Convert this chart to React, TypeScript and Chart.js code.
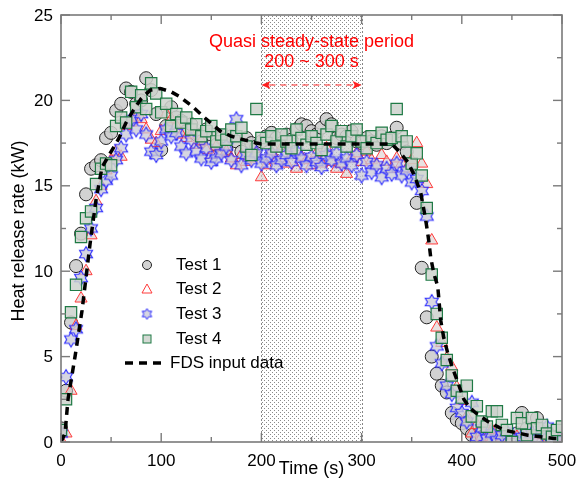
import React, { useEffect, useRef } from 'react';
import { Chart, registerables } from 'chart.js';

Chart.register(...registerables);

const FONT = "'Liberation Sans', Arial, sans-serif";

// Time samples (s) shared by the four tests
const TIME = [
  0, 5, 10, 15, 20, 25, 30, 35, 40, 45,
  50, 55, 60, 65, 70, 75, 80, 85, 90, 95,
  100, 105, 110, 115, 120, 125, 130, 135, 140, 145,
  150, 155, 160, 165, 170, 175, 180, 185, 190, 195,
  200, 205, 210, 215, 220, 225, 230, 235, 240, 245,
  250, 255, 260, 265, 270, 275, 280, 285, 290, 295,
  300, 305, 310, 315, 320, 325, 330, 335, 340, 345,
  350, 355, 360, 365, 370, 375, 380, 385, 390, 395,
  400, 405, 410, 415, 420, 425, 430, 435, 440, 445,
  450, 455, 460, 465, 470, 475, 480, 485, 490, 495,
  500,
];

const TEST1 = [
  0.8, 3.0, 7.0, 10.3, 12.2, 14.5, 16.0, 16.2, 16.5, 17.8,
  18.1, 19.4, 19.8, 20.7, 20.5, 19.8, 20.0, 21.3, 20.6, 19.2,
  17.1, 18.5, 19.6, 19.0, 18.8, 18.2, 18.6, 18.0, 17.6, 18.3,
  18.0, 17.4, 17.8, 17.2, 17.9, 17.6, 17.0, 17.8, 17.5, 17.3,
  17.6, 17.9, 18.1, 17.8, 17.5, 18.0, 17.7, 18.3, 18.6, 18.5,
  18.2, 18.0, 18.4, 18.9, 18.6, 17.8, 18.0, 17.9, 18.2, 17.6,
  17.5, 17.8, 17.6, 17.4, 17.9, 17.5, 17.8, 18.4, 17.5, 17.0,
  16.2, 14.0, 10.2, 7.3, 5.0, 4.0, 3.3, 2.9, 1.7, 1.3,
  1.1, 0.8, 0.4, 0.1, 0.3, 0.5, 0.2, 0.6, 0.0, 0.3,
  0.1, 0.5, 1.7, 0.8, 0.3, 1.4, 0.6, 0.2, 0.1, 0.3,
  0.1,
];

const TEST2 = [
  0.1, 0.5, 3.0, 6.8, 8.4, 10.0, 12.1, 14.1, 15.0, 15.9,
  16.5, 17.0, 16.7, 18.5, 18.7, 19.0, 18.9, 18.3, 17.7, 17.5,
  18.2, 19.2, 18.9, 18.5, 18.0, 17.8, 18.0, 17.4, 17.6, 17.1,
  16.8, 17.3, 16.9, 17.0, 16.6, 16.2, 16.8, 16.4, 16.6, 16.9,
  15.5, 16.2, 17.0, 16.5, 17.2, 16.3, 16.8, 16.0, 16.7, 16.5,
  16.2, 16.9, 16.3, 17.2, 16.4, 16.0, 16.3, 15.7, 16.6, 16.9,
  16.4, 17.0, 16.5, 16.2, 16.8, 16.4, 16.0, 16.6, 16.3, 16.0,
  16.5, 17.5, 16.3, 15.1, 11.8, 6.7, 5.8, 4.9, 4.4, 3.2,
  2.4, 1.5, 0.5, 1.0, 0.3, 0.8, 0.7, 0.4, 0.2, 0.6,
  0.1, 0.3, 0.0, 0.2, 0.5, 0.1, 0.4, 0.0, 0.2, 0.1,
  0.3,
];

const TEST3 = [
  0.5, 3.8, 6.0, 6.6, 9.6, 11.0, 12.5, 13.7, 14.8, 15.3,
  15.6, 16.5, 17.2, 18.0, 18.9, 18.3, 19.2, 18.0, 17.0, 16.8,
  17.6, 18.3, 17.9, 18.1, 17.3, 16.9, 17.7, 17.0, 16.6, 17.2,
  16.4, 16.6, 16.9, 17.3, 16.5, 18.9, 16.2, 16.8, 16.5, 16.9,
  16.3, 16.6, 16.9, 16.2, 16.5, 16.8, 16.4, 17.0, 16.6, 16.2,
  16.7, 16.4, 16.1, 16.8, 16.5, 16.9, 16.3, 16.6, 16.2, 16.8,
  15.6, 16.4, 15.8, 16.2, 15.5, 16.0, 15.7, 16.3, 15.6, 15.9,
  15.2, 15.4, 14.7, 13.2, 8.2, 5.6, 4.6, 3.3, 2.8, 2.0,
  1.7, 1.2, 2.3, 0.3, 0.8, 0.2, 0.5, 0.1, 0.4, 0.6,
  0.2, 0.0, 0.3, 0.1, 0.5, 0.2, 0.7, 0.9, 0.3, 0.1,
  0.2,
];

const TEST4 = [
  0.7, 2.5, 7.6, 9.2, 12.0, 13.1, 13.5, 15.1, 16.0, 16.3,
  16.2, 18.5, 19.0, 18.7, 20.5, 19.6, 20.3, 19.5, 21.0, 20.4,
  19.3, 19.8, 18.5, 19.2, 18.7, 19.0, 18.3, 18.6, 17.9, 18.2,
  18.5, 17.6, 18.0, 17.7, 18.3, 17.9, 18.4, 17.3, 16.8, 19.5,
  17.8, 17.5, 17.9, 17.3, 18.0, 17.6, 17.2, 18.3, 17.8, 17.4,
  17.9, 17.5, 17.1, 18.0, 18.5, 17.6, 18.2, 17.3, 17.9, 18.3,
  17.6, 17.2, 17.9, 17.5, 18.1, 17.7, 17.8, 19.5, 17.9, 17.6,
  16.3, 16.9, 15.6, 13.7, 9.8, 7.5, 6.1, 4.8, 3.9, 3.0,
  2.6, 3.3, 1.5, 2.1, 1.2, 0.9, 1.8, 1.8, 1.0, 0.7,
  0.0, 1.4, 1.1, 0.4, 1.4, 0.8, 1.0, 0.5, 0.3, 0.7,
  0.9,
];

// FDS input data curve
const FDS_TIME = [
  0, 4, 7, 14, 21, 29, 35, 41, 50, 57, 65, 72, 80, 89, 99, 110, 119, 132, 145, 159,
  170, 182, 195, 200, 330, 339, 346, 352, 359, 364, 367, 369, 372, 376, 379, 382, 386, 391, 396, 402,
  408, 414, 426, 442, 466, 492, 500,
];
const FDS_HRR = [
  0, 0.5, 2.5, 5.0, 7.7, 11.6, 14.2, 16.1, 17.0, 17.7, 18.7, 19.4, 20.1, 20.6, 20.7, 20.5, 20.2, 19.6, 18.9, 18.2,
  17.9, 17.7, 17.5, 17.45, 17.45, 16.9, 16.4, 15.7, 14.6, 13.0, 11.8, 10.8, 9.9, 9.1, 7.1, 6.1, 5.2, 4.3, 3.5, 2.5,
  2.0, 1.7, 1.2, 0.7, 0.4, 0.2, 0.2,
];

const SERIES_NAMES = ['Test 1', 'Test 2', 'Test 3', 'Test 4', 'FDS input data'];
const X_TICKS = [0, 100, 200, 300, 400, 500];
const Y_TICKS = [0, 5, 10, 15, 20, 25];
const X_MINOR = [50, 150, 250, 350, 450];
const Y_MINOR = [2.5, 7.5, 12.5, 17.5, 22.5];
const STEADY = [200, 300];
const ANNOT_TITLE = 'Quasi steady-state period';
const ANNOT_RANGE = '200 ~ 300 s';
const ANNOT_ARROW_Y = 20.9;
const X_TITLE = 'Time (s)';
const Y_TITLE = 'Heat release rate (kW)';

const C1 = { bg: 'rgba(205,205,205,0.9)', border: '#222222' };
const C2 = { bg: 'rgba(215,200,200,0.55)', border: '#ff3a3a' };
const C3 = { bg: 'rgba(200,200,215,0.75)', border: '#2b2bff' };
const C4 = { bg: 'rgba(205,210,205,0.85)', border: '#1f7a45' };

function makeHexagram(R: number, stroke: string, fill: string, lw: number) {
  const size = Math.ceil(2 * R + lw * 2 + 2);
  const c = document.createElement('canvas');
  c.width = size;
  c.height = size;
  const g = c.getContext('2d')!;
  const cx = size / 2;
  const cy = size / 2;
  g.beginPath();
  for (let k = 0; k < 12; k++) {
    const ang = -Math.PI / 2 + (k * Math.PI) / 6;
    const r = k % 2 === 0 ? R : R / Math.sqrt(3);
    const px = cx + r * Math.cos(ang);
    const py = cy + r * Math.sin(ang);
    if (k === 0) g.moveTo(px, py);
    else g.lineTo(px, py);
  }
  g.closePath();
  g.fillStyle = fill;
  g.fill();
  g.strokeStyle = stroke;
  g.lineWidth = lw;
  g.stroke();
  return c;
}

function makeDotPattern(ctx: CanvasRenderingContext2D) {
  const c = document.createElement('canvas');
  c.width = 4;
  c.height = 4;
  const g = c.getContext('2d')!;
  g.fillStyle = '#8a8a8a';
  g.fillRect(0, 0, 1, 1);
  g.fillRect(2, 2, 1, 1);
  return ctx.createPattern(c, 'repeat');
}

const decorPlugin = {
  id: 'decor',
  beforeDatasetsDraw(chart: any) {
    const { ctx, chartArea, scales } = chart;
    const x = scales.x;
    const x0 = x.getPixelForValue(STEADY[0]);
    const x1 = x.getPixelForValue(STEADY[1]);
    ctx.save();
    const pat = makeDotPattern(ctx);
    if (pat) {
      ctx.fillStyle = pat;
      ctx.fillRect(x0, chartArea.top, x1 - x0, chartArea.bottom - chartArea.top);
    }
    ctx.strokeStyle = '#888888';
    ctx.lineWidth = 1;
    ctx.setLineDash([2, 2]);
    for (const px of [x0, x1]) {
      ctx.beginPath();
      ctx.moveTo(Math.round(px) + 0.5, chartArea.top);
      ctx.lineTo(Math.round(px) + 0.5, chartArea.bottom);
      ctx.stroke();
    }
    ctx.restore();
  },
  afterDatasetsDraw(chart: any) {
    const { ctx, chartArea, scales } = chart;
    const x = scales.x;
    const y = scales.y;
    ctx.save();
    // frame
    ctx.strokeStyle = '#7a7a7a';
    ctx.lineWidth = 1.6;
    ctx.strokeRect(chartArea.left, chartArea.top, chartArea.right - chartArea.left, chartArea.bottom - chartArea.top);
    // inward ticks
    const tick = (x1: number, y1: number, x2: number, y2: number) => {
      ctx.beginPath();
      ctx.moveTo(x1, y1);
      ctx.lineTo(x2, y2);
      ctx.stroke();
    };
    ctx.lineWidth = 1.4;
    for (const v of X_TICKS) {
      const px = x.getPixelForValue(v);
      tick(px, chartArea.bottom, px, chartArea.bottom - 9);
      tick(px, chartArea.top, px, chartArea.top + 9);
    }
    for (const v of X_MINOR) {
      const px = x.getPixelForValue(v);
      tick(px, chartArea.bottom, px, chartArea.bottom - 5);
      tick(px, chartArea.top, px, chartArea.top + 5);
    }
    for (const v of Y_TICKS) {
      const py = y.getPixelForValue(v);
      tick(chartArea.left, py, chartArea.left + 9, py);
      tick(chartArea.right, py, chartArea.right - 9, py);
    }
    for (const v of Y_MINOR) {
      const py = y.getPixelForValue(v);
      tick(chartArea.left, py, chartArea.left + 5, py);
      tick(chartArea.right, py, chartArea.right - 5, py);
    }

    // tick labels
    ctx.fillStyle = '#000000';
    ctx.font = `17px ${FONT}`;
    ctx.textBaseline = 'middle';
    ctx.textAlign = 'center';
    for (const v of X_TICKS) {
      ctx.fillText(String(v), x.getPixelForValue(v), chartArea.bottom + 19);
    }
    ctx.textAlign = 'right';
    for (const v of Y_TICKS) {
      ctx.fillText(String(v), chartArea.left - 8, y.getPixelForValue(v) + 1);
    }

    // annotation
    const cx = (x.getPixelForValue(STEADY[0]) + x.getPixelForValue(STEADY[1])) / 2;
    ctx.fillStyle = '#ff0000';
    ctx.font = `18px ${FONT}`;
    ctx.textAlign = 'center';
    ctx.textBaseline = 'middle';
    ctx.fillText(ANNOT_TITLE, cx, 42);
    ctx.fillText(ANNOT_RANGE, cx, 62);
    const ay = y.getPixelForValue(ANNOT_ARROW_Y);
    const ax0 = x.getPixelForValue(STEADY[0]);
    const ax1 = x.getPixelForValue(STEADY[1]);
    ctx.strokeStyle = 'rgba(255,60,60,0.75)';
    ctx.lineWidth = 1.5;
    ctx.setLineDash([6, 5]);
    ctx.beginPath();
    ctx.moveTo(ax0 + 8, ay);
    ctx.lineTo(ax1 - 8, ay);
    ctx.stroke();
    ctx.setLineDash([]);
    ctx.fillStyle = '#ff2020';
    ctx.beginPath();
    ctx.moveTo(ax0, ay);
    ctx.lineTo(ax0 + 9, ay - 4);
    ctx.lineTo(ax0 + 7, ay);
    ctx.lineTo(ax0 + 9, ay + 4);
    ctx.closePath();
    ctx.fill();
    ctx.beginPath();
    ctx.moveTo(ax1, ay);
    ctx.lineTo(ax1 - 9, ay - 4);
    ctx.lineTo(ax1 - 7, ay);
    ctx.lineTo(ax1 - 9, ay + 4);
    ctx.closePath();
    ctx.fill();

    // axis titles
    ctx.fillStyle = '#000000';
    ctx.font = `18px ${FONT}`;
    ctx.textAlign = 'center';
    ctx.textBaseline = 'middle';
    ctx.fillText(X_TITLE, (chartArea.left + chartArea.right) / 2, 469);
    ctx.save();
    ctx.translate(19, 231);
    ctx.rotate(-Math.PI / 2);
    ctx.fillText(Y_TITLE, 0, 0);
    ctx.restore();

    // legend
    const lx = 147;
    const rows = [265, 289, 314, 339, 363];
    const tx = 176;
    ctx.lineWidth = 1;
    ctx.beginPath();
    ctx.arc(lx, rows[0], 4.5, 0, Math.PI * 2);
    ctx.fillStyle = C1.bg;
    ctx.fill();
    ctx.strokeStyle = C1.border;
    ctx.stroke();
    ctx.beginPath();
    ctx.moveTo(lx, rows[1] - 5);
    ctx.lineTo(lx + 5, rows[1] + 4);
    ctx.lineTo(lx - 5, rows[1] + 4);
    ctx.closePath();
    ctx.fillStyle = 'rgba(255,255,255,0.9)';
    ctx.fill();
    ctx.strokeStyle = C2.border;
    ctx.stroke();
    const hx = makeHexagram(5.5, C3.border, C3.bg, 1);
    ctx.drawImage(hx, lx - hx.width / 2, rows[2] - hx.height / 2);
    ctx.fillStyle = C4.bg;
    ctx.fillRect(lx - 4, rows[3] - 4, 8, 8);
    ctx.strokeStyle = C4.border;
    ctx.strokeRect(lx - 4, rows[3] - 4, 8, 8);
    ctx.strokeStyle = '#000';
    ctx.lineWidth = 3.5;
    ctx.setLineDash([8, 6]);
    ctx.beginPath();
    ctx.moveTo(125, rows[4]);
    ctx.lineTo(164, rows[4]);
    ctx.stroke();
    ctx.setLineDash([]);
    ctx.fillStyle = '#000';
    ctx.font = `17px ${FONT}`;
    ctx.textAlign = 'left';
    ctx.textBaseline = 'middle';
    SERIES_NAMES.forEach((n, i) => ctx.fillText(n, i === 4 ? 170 : tx, rows[i]));
    ctx.restore();
  },
};

export default function App() {
  const ref = useRef<HTMLCanvasElement | null>(null);
  useEffect(() => {
    if (!ref.current) return;
    const toXY = (vals: number[]) => vals.map((v, i) => ({ x: TIME[i], y: v }));
    const star = makeHexagram(7.5, C3.border, C3.bg, 1.1);
    const chart = new Chart(ref.current, {
      type: 'scatter',
      data: {
        datasets: [
          {
            label: SERIES_NAMES[4],
            data: FDS_TIME.map((t, i) => ({ x: t, y: FDS_HRR[i] })),
            showLine: true,
            borderColor: '#000000',
            borderWidth: 3.5,
            borderDash: [8, 6],
            pointRadius: 0,
            fill: false,
            tension: 0,
            order: 0,
          },
          {
            label: SERIES_NAMES[3],
            data: toXY(TEST4),
            pointStyle: 'rect',
            pointRadius: 8,
            backgroundColor: C4.bg,
            borderColor: C4.border,
            borderWidth: 1.2,
            order: 1,
          },
          {
            label: SERIES_NAMES[2],
            data: toXY(TEST3),
            pointStyle: star as any,
            pointRadius: 7,
            backgroundColor: C3.bg,
            borderColor: C3.border,
            order: 2,
          },
          {
            label: SERIES_NAMES[1],
            data: toXY(TEST2),
            pointStyle: 'triangle',
            pointRadius: 7,
            backgroundColor: C2.bg,
            borderColor: C2.border,
            borderWidth: 1,
            order: 3,
          },
          {
            label: SERIES_NAMES[0],
            data: toXY(TEST1),
            pointStyle: 'circle',
            pointRadius: 6.5,
            backgroundColor: C1.bg,
            borderColor: C1.border,
            borderWidth: 1,
            order: 4,
          },
        ],
      },
      options: {
        animation: false,
        responsive: false,
        maintainAspectRatio: false,
        layout: { padding: { top: 15, right: 14, left: 0, bottom: 0 } },
        plugins: { legend: { display: false }, tooltip: { enabled: false } },
        scales: {
          x: {
            type: 'linear',
            min: 0,
            max: 500,
            grid: { display: false, drawTicks: false },
            border: { display: false },
            ticks: { display: false, stepSize: 100 },
            afterFit: (s: any) => {
              s.height = 50;
            },
          },
          y: {
            type: 'linear',
            min: 0,
            max: 25,
            grid: { display: false, drawTicks: false },
            border: { display: false },
            ticks: { display: false, stepSize: 5 },
            afterFit: (s: any) => {
              s.width = 61;
            },
          },
        },
      },
      plugins: [decorPlugin],
    });
    return () => chart.destroy();
  }, []);
  return (
    <div style={{ position: 'fixed', left: 0, top: 0, width: 576, height: 492, background: '#fff' }}>
      <canvas ref={ref} width={576} height={492} style={{ width: 576, height: 492 }} />
    </div>
  );
}
